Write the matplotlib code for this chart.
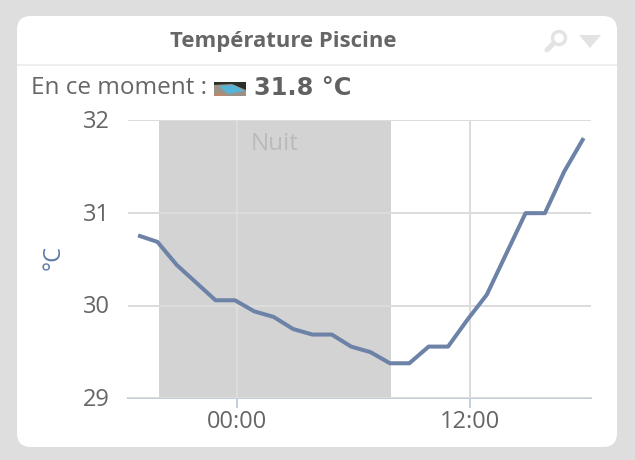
import matplotlib
matplotlib.use("Agg")
import matplotlib.pyplot as plt
from matplotlib.patches import FancyBboxPatch, Rectangle, Polygon, Circle
from matplotlib.transforms import ScaledTranslation
import numpy as np

hours = [-5.13, -4.13, -3.13, -2.13, -1.13, -0.13, 0.87, 1.87, 2.87, 3.87, 4.87, 5.87,
         6.87, 7.87, 8.87, 9.87, 10.87, 11.87, 12.87, 13.87, 14.87, 15.87, 16.87, 17.87]
temps = [30.76, 30.69, 30.44, 30.25, 30.06, 30.06, 29.94, 29.88, 29.75, 29.69, 29.69, 29.56,
         29.5, 29.38, 29.38, 29.56, 29.56, 29.85, 30.12, 30.56, 31.0, 31.0, 31.45, 31.81]
night = [-4.05, 7.92]
y_ticks = [29, 30, 31, 32]
x_ticks = [0, 12]
x_labels = ["00:00", "12:00"]
title = "Température Piscine"
now_label = "En ce moment :"
now_value = "31.8 °C"
night_label = "Nuit"
y_label = "°C"

W, H = 635, 460
fig = plt.figure(figsize=((W + 0.01) / 100, (H + 0.01) / 100), dpi=100, facecolor="#dedede")
bg = fig.add_axes([0, 0, 1, 1], zorder=0)
bg.set_xlim(0, W); bg.set_ylim(H, 0); bg.axis("off")
bg.add_patch(FancyBboxPatch((17 + 14, 16 + 14), 600 - 28, 431 - 28,
                            boxstyle="round,pad=14,rounding_size=14",
                            fc="white", ec="none"))
bg.plot([17, 617], [65, 65], color="#eeeeee", lw=1.4, solid_capstyle="butt")
bg.text(283, 41, title, ha="center", va="center", fontsize=15.9, fontweight="bold",
        color="#666666", family="Open Sans")
bg.text(31, 88, now_label, ha="left", va="center", fontsize=17.5, color="#666666",
        family="Open Sans")
bg.text(254, 88, now_value, ha="left", va="center", fontsize=17.3, fontweight="bold",
        color="#616161", family="DejaVu Sans")

# small pool picture
bg.add_patch(Rectangle((214, 82), 32, 14, fc="#9a9288", ec="none"))
bg.add_patch(Polygon([(214, 82), (246, 82), (246, 90), (232, 84), (214, 85)], fc="#2a3028", ec="none"))
bg.add_patch(Polygon([(219, 86), (234, 85), (244, 91), (228, 94)], fc="#55b5d8", ec="none"))
bg.add_patch(Rectangle((214, 93), 12, 3, fc="#b88a70", ec="none"))

# toolbar icons
bg.add_patch(Circle((559, 38), 6.5, fc="none", ec="#e3e3e3", lw=2.4))
bg.plot([553, 547], [44, 50], color="#e3e3e3", lw=3.6, solid_capstyle="round")
bg.add_patch(Polygon([(579, 35), (601, 35), (590, 48)], fc="#e3e3e3", ec="none"))

# plot area: x 128..591, y 120.5..398.5
L, R, T, B = 128, 591, 120.5, 398.5
ax = fig.add_axes([L / W, 1 - B / H, (R - L) / W, (B - T) / H], zorder=1)
ax.patch.set_alpha(0)
ax.set_xlim(-5.65, 18.25)
ax.set_ylim(29, 32)
ax.axvspan(night[0], night[1], color="#d3d3d3", lw=0, zorder=1)
ax.grid(True, axis="y", color="#dcdcdc", lw=1.44, zorder=2)
ax.grid(True, axis="x", color="#dcdcdc", lw=1.44, zorder=2)
ax.set_axisbelow(False)
for s in ("top", "right", "left"):
    ax.spines[s].set_visible(False)
ax.spines["bottom"].set_color("#c0d0e0")
ax.spines["bottom"].set_linewidth(1.44)
ax.plot(hours, temps, color="#6c82a6", lw=2.9, zorder=3, clip_on=False,
        solid_joinstyle="round", solid_capstyle="butt")
ax.set_yticks(y_ticks)
ax.set_xticks(x_ticks)
ax.set_xticklabels(x_labels)
ax.tick_params(axis="y", length=0, pad=13, labelsize=17, labelcolor="#666666")
ax.tick_params(axis="x", length=7, width=1.44, color="#c0d0e0", pad=1.5, labelsize=17,
               labelcolor="#666666")
for t in ax.get_xticklabels() + ax.get_yticklabels():
    t.set_family("Open Sans")
up = ScaledTranslation(0, 1.5 / 100, fig.dpi_scale_trans)
for t in ax.get_yticklabels():
    t.set_transform(t.get_transform() + up)
ax.text(0.7, 31.75, night_label, fontsize=17.5, color="#bbbbbb", family="Open Sans",
        ha="left", va="center", zorder=4)
bg.text(54, 257, y_label, rotation=90, ha="center", va="center", fontsize=17,
        color="#5f7ba6", family="Open Sans")

fig.savefig("out.png", dpi=100, facecolor=fig.get_facecolor())
